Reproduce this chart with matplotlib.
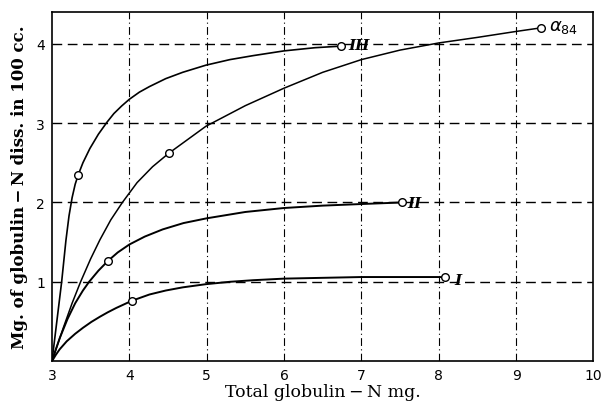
import matplotlib
matplotlib.use("Agg")
import matplotlib.pyplot as plt

# Data
x_I = [3, 3.05, 3.1, 3.19, 3.3, 3.4, 3.51, 3.62, 3.72, 3.83, 4.03, 4.26, 4.47, 4.69,
       4.99, 5.3, 5.6, 6.0, 6.5, 7.0, 7.5, 8.08]
y_I = [0, 0.08, 0.15, 0.25, 0.345, 0.42, 0.495, 0.56, 0.615, 0.67, 0.76, 0.84, 0.89, 0.93,
       0.97, 1.0, 1.02, 1.04, 1.05, 1.06, 1.06, 1.06]

x_II = [3, 3.05, 3.1, 3.2, 3.3, 3.4, 3.48, 3.6, 3.72, 3.85, 4.0, 4.2, 4.43, 4.7,
        5.0, 5.5, 6.0, 6.5, 7.0, 7.53]
y_II = [0, 0.15, 0.29, 0.53, 0.73, 0.89, 1.0, 1.14, 1.26, 1.37, 1.47, 1.57, 1.66, 1.74,
        1.8, 1.88, 1.93, 1.96, 1.98, 2.0]

x_A = [3, 3.15, 3.26, 3.37, 3.5, 3.62, 3.76, 3.91, 4.1, 4.3, 4.51, 4.99, 5.5, 6.0, 6.5,
       7.0, 7.5, 8.0, 8.5, 9.0, 9.32]
y_A = [0, 0.43, 0.73, 1.0, 1.29, 1.53, 1.78, 2.0, 2.25, 2.45, 2.62, 2.96, 3.22, 3.44, 3.64,
       3.8, 3.92, 4.01, 4.08, 4.155, 4.2]

x_III = [3, 3.06, 3.125, 3.18, 3.22, 3.26, 3.3, 3.34, 3.4, 3.49, 3.6, 3.71, 3.8, 3.9,
         4.0, 4.13, 4.26, 4.47, 4.69, 4.99, 5.3, 5.6, 6.0, 6.4, 6.74]
y_III = [0, 0.48, 1.0, 1.52, 1.83, 2.06, 2.23, 2.35, 2.5, 2.68, 2.86, 3.01, 3.12, 3.215,
         3.3, 3.39, 3.46, 3.56, 3.64, 3.73, 3.8, 3.85, 3.91, 3.95, 3.97]

# marker points (index into curves)
mark_I = [10, 21]
mark_II = [8, 19]
mark_A = [10, 20]
mark_III = [7, 24]

x_ticks = [3, 4, 5, 6, 7, 8, 9, 10]
y_ticks = [1, 2, 3, 4]

fig = plt.figure(figsize=(6.01, 4.06), dpi=100)
ax = fig.add_axes([0.0865, 0.108, 0.901, 0.860])
ax.set_xlim(3, 10)
ax.set_ylim(0, 4.4)

for xv in x_ticks[1:-1]:
    ax.axvline(xv, color="black", lw=0.8, ls=(0, (7, 3, 1, 3)), zorder=1)
for yv in y_ticks:
    ax.axhline(yv, color="black", lw=1.0, ls=(0, (7, 4)), zorder=1)

curves = [(x_I, y_I, mark_I, 1.4), (x_II, y_II, mark_II, 1.4),
          (x_A, y_A, mark_A, 1.1), (x_III, y_III, mark_III, 1.2)]
for xs, ys, mk, lw in curves:
    ax.plot(xs, ys, color="black", lw=lw, zorder=2, solid_joinstyle="round")
    ax.plot([xs[i] for i in mk], [ys[i] for i in mk], "o", ms=5.5,
            mfc="white", mec="black", mew=1.0, zorder=3)

lab = dict(fontfamily="DejaVu Serif", fontstyle="italic", fontweight="bold",
           va="center", ha="left", fontsize=11)
ax.text(6.83, 3.98, "III", **lab)
ax.text(7.6, 1.99, "II", **lab)
ax.text(8.2, 1.02, "I", **lab)
ax.text(9.42, 4.22, r"$\alpha_{84}$", fontsize=13, va="center", ha="left")

ax.set_xticks(x_ticks)
ax.set_yticks(y_ticks)
ax.tick_params(length=0, labelsize=10, pad=5)
for t in ax.get_xticklabels() + ax.get_yticklabels():
    t.set_fontfamily("DejaVu Sans")
for s in ax.spines.values():
    s.set_linewidth(1.2)

ax.set_xlabel("Total globulin\u2009\u2212\u2009N mg.", fontfamily="DejaVu Serif",
              fontsize=12.5, labelpad=1)
ax.set_ylabel("Mg. of globulin\u2009\u2212\u2009N diss. in 100 cc.", fontfamily="DejaVu Serif",
              fontsize=12, fontweight="bold", labelpad=6)

fig.savefig("out.png", dpi=100)
